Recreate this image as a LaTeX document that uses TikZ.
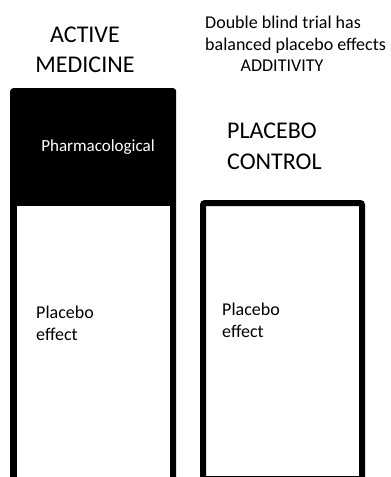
\documentclass[tikz,border=0pt]{standalone}
\usepackage{fontspec}
\setmainfont{Carlito}
\usepackage{tikz}
\usepackage{xcolor}

\begin{document}
\begin{tikzpicture}[x=1pt, y=1pt,
    big/.style={inner sep=0pt, font=\fontsize{24}{30.5}\selectfont},
    small/.style={inner sep=0pt, font=\fontsize{18}{21.5}\selectfont}]
  \useasboundingbox (0,0) rectangle (391,-477);
  \node[fill=black, rounded corners=3pt, minimum width=166pt, minimum height=420pt, inner sep=0pt, anchor=north west] (drug) at (10,-88) {};
  \node[fill=white, minimum width=153pt, minimum height=271pt, inner sep=0pt, anchor=north west] (drugpl) at (17,-206) {};
  \node[draw, line width=6pt, rounded corners=2pt, minimum width=159pt, minimum height=276pt, inner sep=0pt, anchor=north west] (ctrl) at (200,-200) {};
  \node[big, align=center, anchor=base] (active) at (85,-72.7) {ACTIVE\\MEDICINE};
  \node[big, align=left, anchor=base west] (control) at (227,-169) {PLACEBO\\CONTROL};
  \node[small, align=left, anchor=base west] (trial) at (205,-50) {Double blind trial has\\balanced placebo effects};
  \node[small, anchor=base] (additivity) at (282,-71.7) {ADDITIVITY};
  \node[inner sep=0pt, text=white, font=\fontsize{17}{20}\selectfont, anchor=base] (pharma) at (98,-151) {Pharmacological};
  \node[small, align=left, anchor=base west] (effA) at (36,-340) {Placebo\\effect};
  \node[small, align=left, anchor=base west] (effB) at (222,-337) {Placebo\\effect};
\end{tikzpicture}
\end{document}
